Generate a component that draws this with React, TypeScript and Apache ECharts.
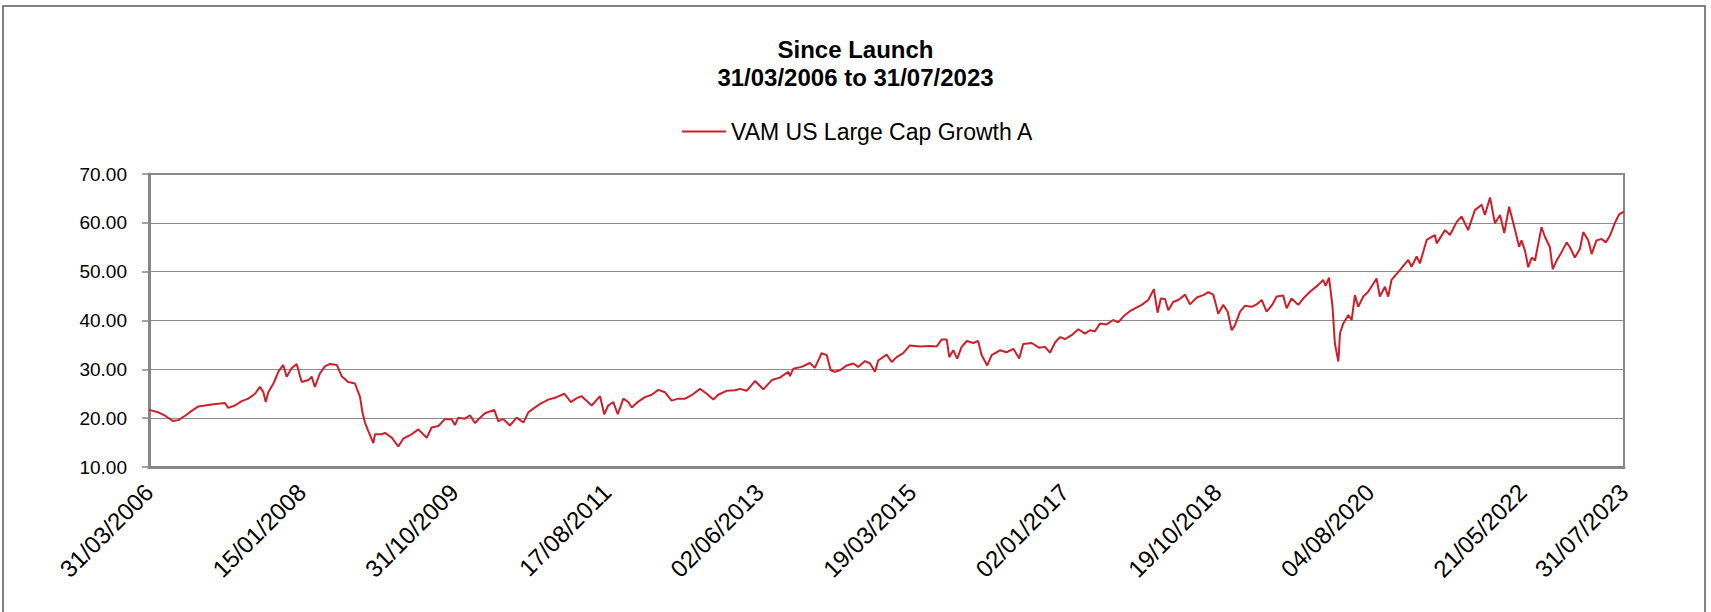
import React, { useEffect, useRef } from "react";
import * as echarts from "echarts";

// Days elapsed since launch (31/03/2006)
const days: number[] = [
  0, 40, 69, 104, 126, 155, 183, 212, 240, 269, 326, 340, 369, 398, 426, 455, 476, 491, 501, 512,
  534, 555, 576, 591, 612, 634, 655, 684, 698, 712, 734, 755, 777, 806, 827, 855, 884, 906, 916, 927,
  941, 963, 970, 999, 1013, 1042, 1070, 1091, 1127, 1156, 1192, 1213, 1242, 1270, 1299, 1313,
  1328, 1356, 1378, 1399, 1421, 1442, 1482, 1499, 1521, 1549, 1578, 1607, 1628, 1657, 1685, 1714,
  1750, 1783, 1811, 1836, 1857, 1900, 1936, 1954, 1971, 1993, 2012, 2036, 2057, 2072, 2100, 2129,
  2158, 2186, 2215, 2243, 2272, 2301, 2329, 2365, 2394, 2422, 2443, 2479, 2515, 2537, 2565,
  2601, 2637, 2673, 2708, 2744, 2751, 2765, 2801, 2837, 2858, 2887, 2909, 2926, 2944, 2966, 2995,
  3023, 3044, 3073, 3095, 3116, 3130, 3166, 3188, 3209, 3237, 3266, 3309, 3352, 3381, 3402, 3424,
  3435, 3452, 3469, 3488, 3510, 3538, 3559, 3574, 3598, 3617, 3652, 3681, 3710, 3735, 3752, 3789, 3821,
  3846, 3867, 3889, 3910, 3932, 3960, 3989, 4017, 4039, 4060, 4082, 4110, 4139, 4160, 4182, 4210,
  4232, 4261, 4289, 4313, 4329, 4343, 4361, 4375, 4396, 4418, 4447, 4468, 4497, 4525, 4547, 4568,
  4582, 4589, 4611, 4630, 4647, 4661, 4683, 4704, 4733, 4754, 4776, 4797, 4821, 4840, 4868, 4883,
  4904, 4933, 4954, 4983, 5019, 5040, 5050, 5065, 5080, 5090, 5105, 5112, 5126, 5148, 5162, 5176,
  5190, 5212, 5233, 5269, 5283, 5305, 5319, 5333, 5369, 5405, 5419, 5441, 5455, 5484, 5519, 5527,
  5563, 5584, 5613, 5634, 5662, 5691, 5720, 5734, 5756, 5777, 5799, 5817, 5838, 5856, 5881, 5891,
  5906, 5920, 5935, 5949, 5977, 5992, 6013, 6025, 6042, 6063, 6085, 6099, 6120, 6142, 6156, 6178,
  6192, 6213, 6235, 6253, 6271, 6293, 6311, 6331,
];

// VAM US Large Cap Growth A price
const prices: number[] = [
  21.7, 21.2, 20.5, 19.4, 19.6, 20.5, 21.5, 22.4, 22.6, 22.8, 23.1, 22.1, 22.6, 23.5, 24.0, 25.0, 26.4, 25.3, 23.3, 25.3,
  27.1, 29.5, 30.9, 28.5, 30.2, 31.1, 27.4, 27.8, 28.5, 26.4, 29.2, 30.6, 31.1, 30.9, 28.6, 27.4, 27.1, 24.3, 21.2, 19.1,
  17.4, 14.9, 16.7, 16.7, 17.0, 16.0, 14.2, 15.8, 16.7, 17.7, 16.0, 18.1, 18.4, 19.8, 19.8, 18.6,
  20.1, 19.9, 20.6, 19.0, 20.1, 21.0, 21.7, 19.4, 19.8, 18.5, 20.1, 19.1, 21.2, 22.2, 23.1, 23.8,
  24.3, 25.0, 23.3, 24.1, 24.5, 22.6, 24.5, 20.8, 22.6, 23.3, 20.8, 24.0, 23.3, 22.2, 23.4, 24.3,
  24.8, 25.8, 25.3, 23.6, 24.0, 24.0, 24.7, 26.0, 25.0, 23.8, 24.8, 25.6, 25.7, 26.0, 25.6,
  27.6, 25.9, 27.8, 28.3, 29.5, 28.6, 30.1, 30.5, 31.3, 30.3, 33.3, 32.9, 29.8, 29.5, 29.8, 30.8,
  31.2, 30.5, 31.7, 31.2, 29.5, 31.8, 33.0, 31.5, 32.5, 33.3, 34.9, 34.7, 34.8, 34.7, 36.1, 36.1,
  32.5, 33.9, 32.2, 34.6, 35.8, 35.4, 35.8, 32.9, 30.8, 32.9, 33.9, 33.5, 34.2, 32.2, 35.2, 35.4, 34.4,
  34.6, 33.4, 35.5, 36.6, 36.2, 37.0, 38.2, 37.3, 38.0, 37.8, 39.4, 39.2, 40.1, 39.6, 40.8, 41.9,
  42.5, 43.2, 44.2, 46.4, 41.6, 44.5, 44.4, 42.1, 43.8, 44.2, 45.3, 43.3, 44.7, 45.2, 45.8, 45.3,
  42.8, 41.4, 43.2, 41.8, 38.0, 39.0, 41.8, 43.0, 42.8, 43.3, 44.2, 41.8, 43.2, 44.9, 45.1, 42.5,
  44.5, 43.2, 44.5, 45.9, 47.3, 48.3, 47.1, 48.8, 42.8, 35.3, 31.6, 37.4, 39.4, 41.1, 40.1, 45.2,
  42.8, 44.9, 45.9, 48.6, 44.9, 46.9, 44.9, 48.3, 50.3, 52.4, 51.0, 53.1, 51.7, 56.5, 57.5, 55.8,
  58.5, 57.5, 60.2, 61.3, 58.5, 62.6, 63.7, 61.6, 65.2, 59.9, 61.6, 57.9, 63.3, 59.9, 55.1, 56.4,
  54.3, 50.9, 52.9, 52.3, 59.1, 57.1, 55.0, 50.5, 52.3, 54.0, 56.0, 55.0, 52.9, 54.7, 58.1, 56.4,
  53.6, 56.4, 56.7, 56.0, 57.4, 60.1, 61.8, 62.3,
];

const seriesName = "VAM US Large Cap Growth A";
const titleLines = ["Since Launch", "31/03/2006 to 31/07/2023"];
const launchUTC = Date.UTC(2006, 2, 31);
const lastDay = 6331; // 31/07/2023
const labelStep = 655; // days between date labels
const yTicks = [10, 20, 30, 40, 50, 60, 70];

const FONT = "'Liberation Sans', Arial, sans-serif";

function fmtDate(d: number): string {
  const dt = new Date(launchUTC + Math.round(d) * 86400000);
  const dd = String(dt.getUTCDate()).padStart(2, "0");
  const mm = String(dt.getUTCMonth() + 1).padStart(2, "0");
  return `${dd}/${mm}/${dt.getUTCFullYear()}`;
}

export default function App() {
  const ref = useRef<HTMLDivElement>(null);
  useEffect(() => {
    if (!ref.current) return;
    const chart = echarts.init(ref.current, null, { renderer: "svg" });
    const data = days.map((d, i) => [d, prices[i]]);
    chart.setOption({
      animation: false,
      backgroundColor: "#ffffff",
      title: {
        text: titleLines.join("\n"),
        left: "center",
        top: 35,
        padding: 0,
        textStyle: {
          fontFamily: FONT,
          fontWeight: "bold",
          fontSize: 24,
          lineHeight: 28.5,
          color: "#000000",
        },
      },
      legend: {
        data: [seriesName],
        left: 682,
        top: 120,
        padding: 0,
        icon: "rect",
        itemWidth: 44,
        itemHeight: 2,
        textStyle: { fontFamily: FONT, fontSize: 23, color: "#000000" },
      },
      graphic: [
        {
          type: "rect",
          shape: { x: 3, y: 6, width: 1702, height: 640 },
          style: { fill: "none", stroke: "#595959", lineWidth: 1.5 },
          silent: true,
        },
      ],
      grid: {
        left: 149,
        right: 87,
        top: 174,
        bottom: 145,
        show: true,
        borderColor: "#868686",
        borderWidth: 2,
        containLabel: false,
        outerBoundsMode: "none",
      },
      xAxis: {
        type: "value",
        min: 0,
        max: lastDay,
        interval: labelStep,
        axisLine: { show: true, lineStyle: { color: "#868686", width: 3 } },
        axisTick: { show: false },
        splitLine: { show: false },
        axisLabel: {
          rotate: 45,
          margin: 21,
          showMinLabel: true,
          showMaxLabel: true,
          fontFamily: FONT,
          fontSize: 24,
          color: "#000000",
          formatter: (v: number) => fmtDate(v),
        },
      },
      yAxis: {
        type: "value",
        min: yTicks[0],
        max: yTicks[yTicks.length - 1],
        interval: 10,
        axisLine: { show: true, lineStyle: { color: "#868686", width: 3 } },
        axisTick: { show: true, length: 7, lineStyle: { color: "#868686", width: 1.5 } },
        splitLine: { show: true, lineStyle: { color: "#8c8c8c", width: 1.2 } },
        axisLabel: {
          margin: 22,
          fontFamily: FONT,
          fontSize: 19,
          color: "#000000",
          formatter: (v: number) => v.toFixed(2),
        },
      },
      series: [
        {
          name: seriesName,
          type: "line",
          data,
          showSymbol: false,
          symbol: "none",
          color: "#cc1f2a",
          lineStyle: { color: "#cc1f2a", width: 2 },
          emphasis: { disabled: true },
        },
      ],
    });
    return () => chart.dispose();
  }, []);
  return (
    <div
      ref={ref}
      style={{ position: "absolute", left: 0, top: 0, width: 1711, height: 612 }}
    />
  );
}
